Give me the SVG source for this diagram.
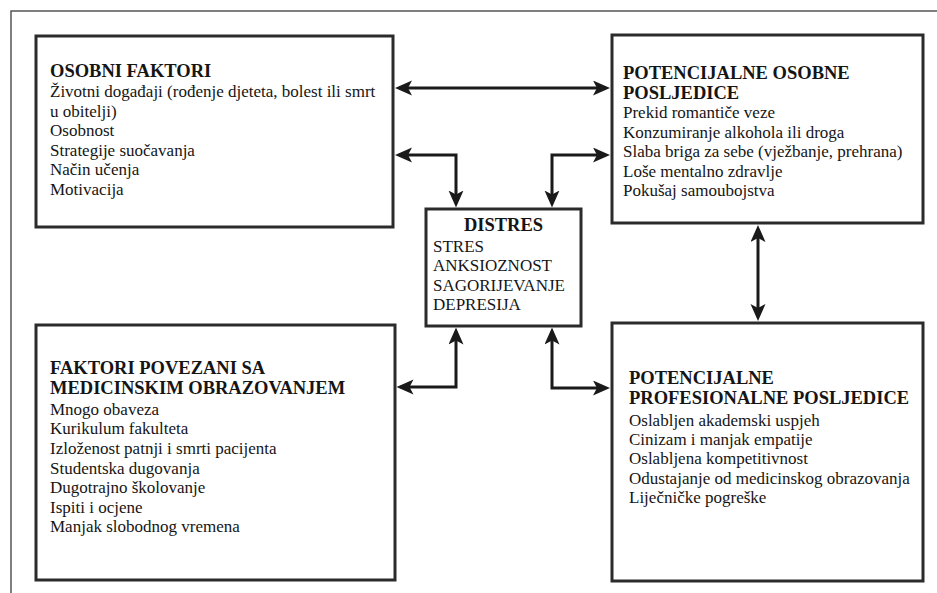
<svg xmlns="http://www.w3.org/2000/svg" width="937" height="593" viewBox="0 0 937 593">
<style>
.box{fill:#fff;stroke:#2b2b2b;stroke-width:3}
.t{font-family:'Liberation Serif','Times New Roman',Tinos,'DejaVu Serif',serif;font-size:17px;fill:#151515}
.h{font-family:'Liberation Serif','Times New Roman',Tinos,'DejaVu Serif',serif;font-size:18.5px;font-weight:bold;fill:#151515}
.c{fill:none;stroke:#1a1a1a;stroke-width:3;marker-start:url(#ah);marker-end:url(#ah)}
</style>
<defs>
<marker id="ah" markerUnits="userSpaceOnUse" markerWidth="18" markerHeight="16" refX="13" refY="7.5" orient="auto-start-reverse">
<path d="M0,0 L17,7.5 L0,15 L4,7.5 z" fill="#1a1a1a"/>
</marker>
</defs>
<rect width="937" height="593" fill="#fff"/>
<path d="M11,593 V11 H937" fill="none" stroke="#555" stroke-width="1.5"/>

<g id="osobni-faktori">
<rect class="box" x="36" y="36" width="357" height="191"/>
<text class="h" x="50" y="77">OSOBNI FAKTORI</text>
<text class="t" x="50" y="97">Životni događaji (rođenje djeteta, bolest ili smrt</text>
<text class="t" x="50" y="116.6">u obitelji)</text>
<text class="t" x="50" y="136.2">Osobnost</text>
<text class="t" x="50" y="155.8">Strategije suočavanja</text>
<text class="t" x="50" y="175.4">Način učenja</text>
<text class="t" x="50" y="195">Motivacija</text>
</g>

<g id="osobne-posljedice">
<rect class="box" x="612" y="35" width="311" height="188"/>
<text class="h" x="623" y="79">POTENCIJALNE OSOBNE</text>
<text class="h" x="623" y="99">POSLJEDICE</text>
<text class="t" x="623" y="118.4">Prekid romantiče veze</text>
<text class="t" x="623" y="137.8">Konzumiranje alkohola ili droga</text>
<text class="t" x="623" y="157.2">Slaba briga za sebe (vježbanje, prehrana)</text>
<text class="t" x="623" y="176.8">Loše mentalno zdravlje</text>
<text class="t" x="623" y="196.4">Pokušaj samoubojstva</text>
</g>

<g id="distres">
<rect class="box" x="426" y="209" width="155" height="117"/>
<text class="h" x="503.5" y="231" text-anchor="middle">DISTRES</text>
<text class="t" x="433" y="251.5">STRES</text>
<text class="t" x="433" y="271">ANKSIOZNOST</text>
<text class="t" x="433" y="290.5">SAGORIJEVANJE</text>
<text class="t" x="433" y="310">DEPRESIJA</text>
</g>

<g id="faktori-obrazovanje">
<rect class="box" x="36" y="325" width="359" height="255"/>
<text class="h" x="50" y="374">FAKTORI POVEZANI SA</text>
<text class="h" x="50" y="394">MEDICINSKIM OBRAZOVANJEM</text>
<text class="t" x="50" y="414.5">Mnogo obaveza</text>
<text class="t" x="50" y="434.2">Kurikulum fakulteta</text>
<text class="t" x="50" y="453.9">Izloženost patnji i smrti pacijenta</text>
<text class="t" x="50" y="473.5">Studentska dugovanja</text>
<text class="t" x="50" y="493.2">Dugotrajno školovanje</text>
<text class="t" x="50" y="512.8">Ispiti i ocjene</text>
<text class="t" x="50" y="532.4">Manjak slobodnog vremena</text>
</g>

<g id="profesionalne-posljedice">
<rect class="box" x="612" y="323" width="311" height="258"/>
<text class="h" x="629" y="384">POTENCIJALNE</text>
<text class="h" x="629" y="404.3">PROFESIONALNE POSLJEDICE</text>
<text class="t" x="629" y="425.5">Oslabljen akademski uspjeh</text>
<text class="t" x="629" y="444.8">Cinizam i manjak empatije</text>
<text class="t" x="629" y="464.2">Oslabljena kompetitivnost</text>
<text class="t" x="629" y="483.6">Odustajanje od medicinskog obrazovanja</text>
<text class="t" x="629" y="503">Liječničke pogreške</text>
</g>

<g id="connectors">
<path class="c" d="M399,88 H606"/>
<path class="c" d="M399,155 H456 V203.5"/>
<path class="c" d="M552,203.5 V155 H606"/>
<path class="c" d="M758,229 V317"/>
<path class="c" d="M456,331.5 V387 H400.5"/>
<path class="c" d="M552,331.5 V388 H606"/>
</g>
</svg>
